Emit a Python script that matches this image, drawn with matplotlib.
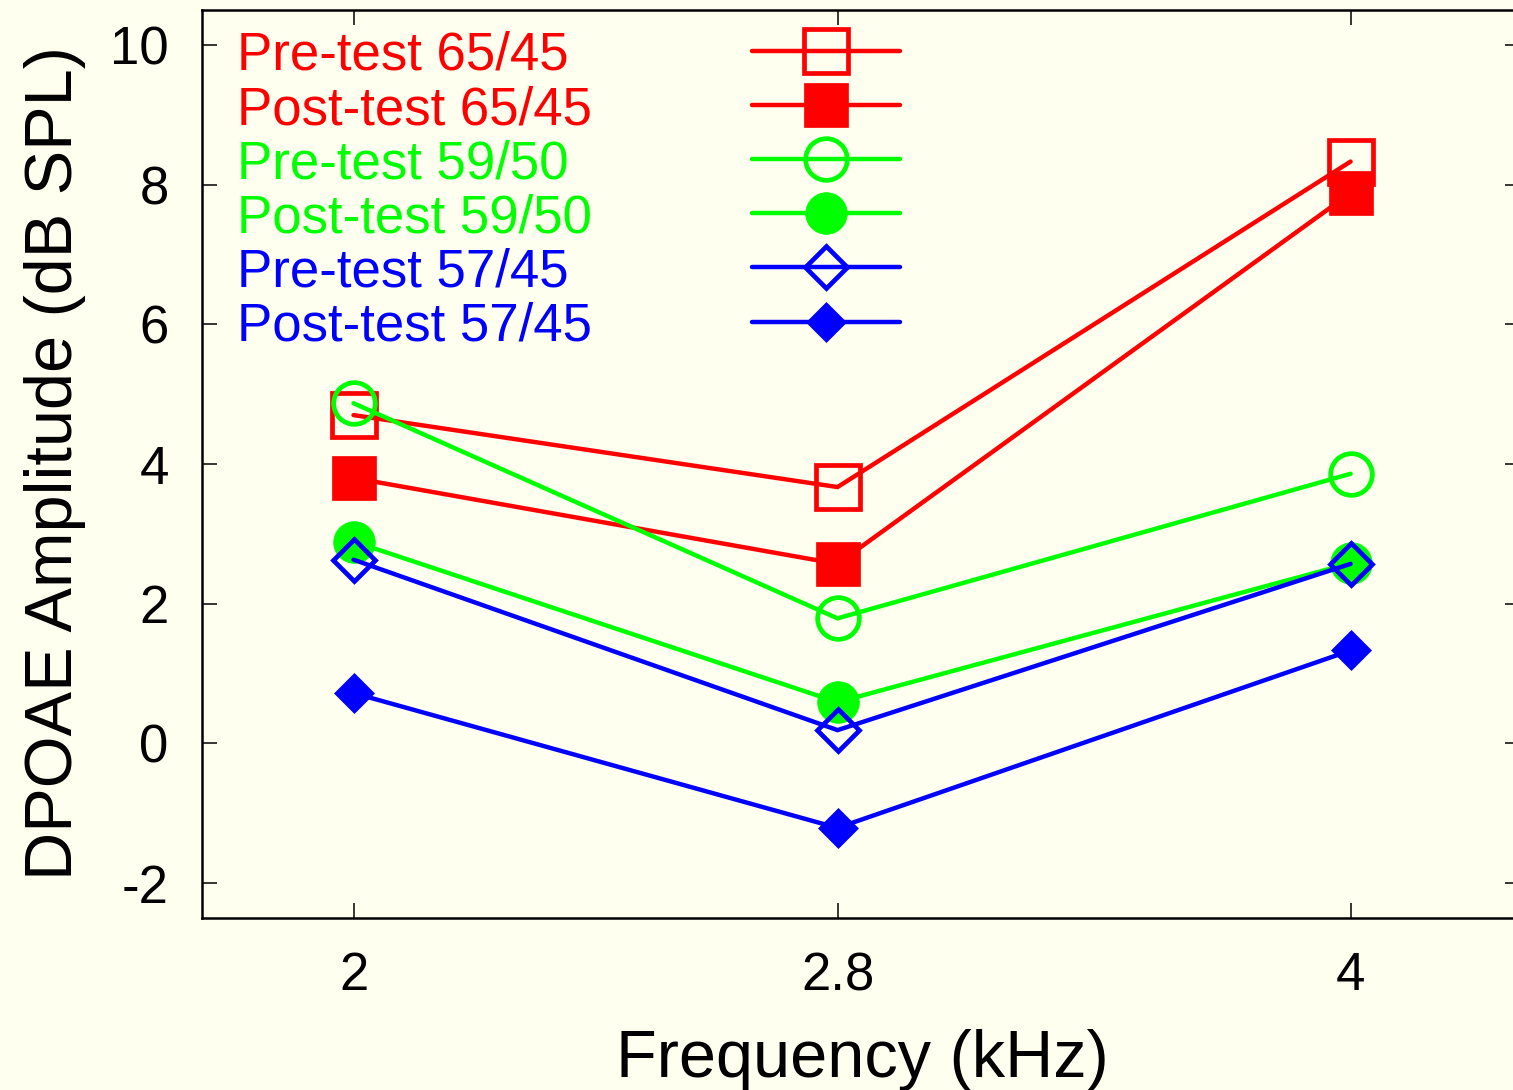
import matplotlib
matplotlib.use('Agg')
import matplotlib.pyplot as plt
from matplotlib.ticker import NullLocator, FixedLocator, FixedFormatter

plt.rcParams['font.family'] = ['Liberation Sans', 'DejaVu Sans']
plt.rcParams['axes.unicode_minus'] = False

# data
freq = [2, 2.8, 4]
freq_labels = ['2', '2.8', '4']
pre_65_45 = [4.70, 3.67, 8.33]
post_65_45 = [3.80, 2.57, 7.88]
pre_59_50 = [4.87, 1.79, 3.86]
post_59_50 = [2.89, 0.59, 2.58]
pre_57_45 = [2.63, 0.19, 2.57]
post_57_45 = [0.72, -1.21, 1.33]
yticks = [-2, 0, 2, 4, 6, 8, 10]

names = ['Pre-test 65/45', 'Post-test 65/45', 'Pre-test 59/50',
         'Post-test 59/50', 'Pre-test 57/45', 'Post-test 57/45']
series = [pre_65_45, post_65_45, pre_59_50, post_59_50, pre_57_45, post_57_45]

red, green, blue = '#ff0000', '#00ff00', '#0000ff'
# colour, marker, filled, marker size
styles = [
    (red, 's', False, 31),
    (red, 's', True, 31),
    (green, 'o', False, 30),
    (green, 'o', True, 30),
    (blue, 'D', False, 21),
    (blue, 'D', True, 20),
]

bg = '#fffff0'
fig = plt.figure(figsize=(15.13, 10.9), dpi=100, facecolor=bg)
ax = fig.add_axes([202 / 1513, 172 / 1090, 1318 / 1513, 908 / 1090])
ax.set_facecolor(bg)

lw = 3.2
mew = 3.4


def marker_kw(color, marker, filled, ms):
    if filled:
        return dict(marker=marker, markersize=ms, markerfacecolor=color,
                    markeredgecolor=color, markeredgewidth=0.5)
    return dict(marker=marker, markersize=ms, markerfacecolor='none',
                markeredgecolor=color, markeredgewidth=mew)


for vals, (color, marker, filled, ms) in zip(series, styles):
    ax.plot(freq, vals, color=color, linewidth=lw,
            solid_capstyle='round', solid_joinstyle='miter',
            **marker_kw(color, marker, filled, ms))

ax.set_xscale('log')
ax.set_xlim(1.8, 4.5)
ax.set_ylim(-2.5, 10.5)
ax.xaxis.set_major_locator(FixedLocator(freq))
ax.xaxis.set_major_formatter(FixedFormatter(freq_labels))
ax.xaxis.set_minor_locator(NullLocator())
ax.set_yticks(yticks)
ax.set_yticklabels([str(v) for v in yticks])

for sp in ax.spines.values():
    sp.set_linewidth(1.8)
    sp.set_color('black')
ax.tick_params(which='both', direction='in', top=True, right=True,
               length=10.8, width=1.1, labelsize=38, pad=24)

# key drawn by hand: text left-justified, samples in a column to the right
x_text = (237 - 202) / 1318
x0, xm, x1 = (752 - 202) / 1318, (826 - 202) / 1318, (900 - 202) / 1318
for i, (name, (color, marker, filled, ms)) in enumerate(zip(names, styles)):
    y_px = 51 + 54.1 * i
    y = (918 - y_px) / 908
    yb = (918 - (y_px + 19)) / 908
    ax.text(x_text, yb, name, color=color, fontsize=38,
            ha='left', va='baseline', transform=ax.transAxes)
    ax.plot([x0, xm, x1], [y, y, y], color=color, linewidth=lw,
            solid_capstyle='round', transform=ax.transAxes, markevery=[1],
            **marker_kw(color, marker, filled, ms))

fig.text(862 / 1513, (1090 - 1077) / 1090, 'Frequency (kHz)', fontsize=48,
         ha='center', va='baseline')
fig.text(72 / 1513, (1090 - 463) / 1090, 'DPOAE Amplitude (dB SPL)',
         fontsize=48, rotation=90, rotation_mode='anchor',
         ha='center', va='baseline')

fig.savefig('out.png', dpi=100, facecolor=bg)
